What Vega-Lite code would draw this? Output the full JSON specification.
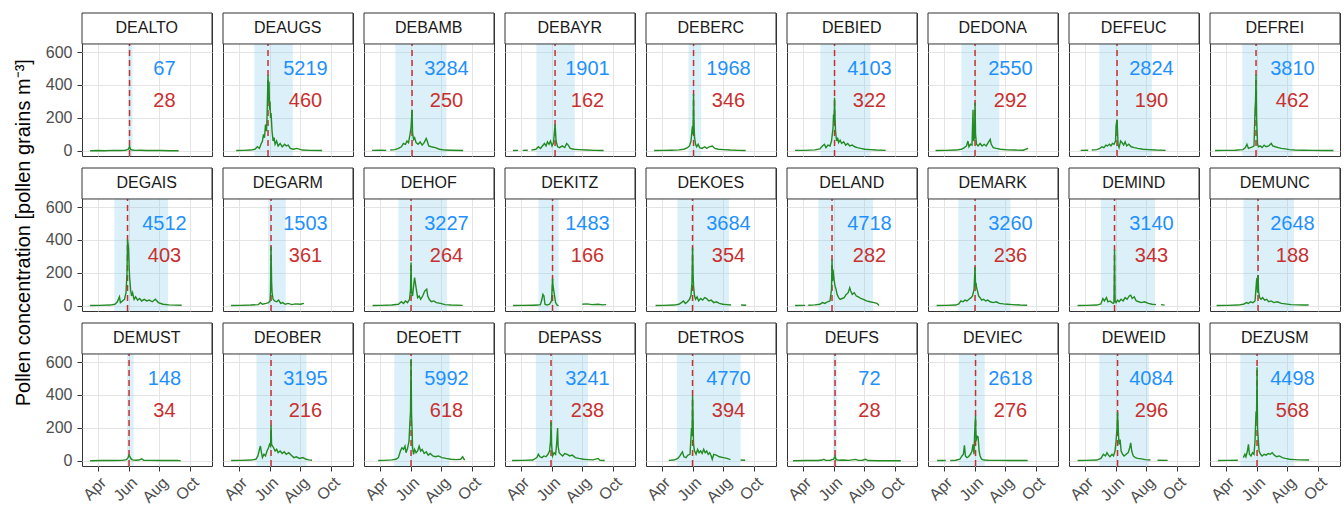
{
"$schema": "https://vega.github.io/schema/vega-lite/v6.json",
"padding": {"left": 14, "top": 12, "right": 4, "bottom": 0},
"bounds": "flush",
"title": {"text": "Pollen concentration [pollen grains m⁻³]", "orient": "left", "anchor": "middle", "fontSize": 20, "fontWeight": "normal", "color": "#000000", "font": "Liberation Sans", "offset": 11, "dx": 26},
"data": {"values": [
{"station":"DEALTO","start":"2022-05-31","end":"2022-06-09","peakDate":"2022-06-03","peak":28,"total":67},
{"station":"DEAUGS","start":"2022-05-02","end":"2022-07-17","peakDate":"2022-05-29","peak":460,"total":5219},
{"station":"DEBAMB","start":"2022-05-02","end":"2022-08-11","peakDate":"2022-06-04","peak":250,"total":3284},
{"station":"DEBAYR","start":"2022-05-02","end":"2022-07-17","peakDate":"2022-06-08","peak":162,"total":1901},
{"station":"DEBERC","start":"2022-05-24","end":"2022-06-18","peakDate":"2022-06-03","peak":346,"total":1968},
{"station":"DEBIED","start":"2022-05-06","end":"2022-08-13","peakDate":"2022-06-03","peak":322,"total":4103},
{"station":"DEDONA","start":"2022-05-06","end":"2022-07-20","peakDate":"2022-06-02","peak":292,"total":2550},
{"station":"DEFEUC","start":"2022-04-30","end":"2022-08-12","peakDate":"2022-06-04","peak":190,"total":2824},
{"station":"DEFREI","start":"2022-05-04","end":"2022-08-11","peakDate":"2022-05-31","peak":462,"total":3810},
{"station":"DEGAIS","start":"2022-05-04","end":"2022-08-18","peakDate":"2022-05-30","peak":403,"total":4512},
{"station":"DEGARM","start":"2022-05-29","end":"2022-07-03","peakDate":"2022-06-04","peak":361,"total":1503},
{"station":"DEHOF","start":"2022-05-08","end":"2022-08-12","peakDate":"2022-06-02","peak":264,"total":3227},
{"station":"DEKITZ","start":"2022-05-06","end":"2022-06-15","peakDate":"2022-06-03","peak":166,"total":1483},
{"station":"DEKOES","start":"2022-05-02","end":"2022-08-12","peakDate":"2022-06-01","peak":354,"total":3684},
{"station":"DELAND","start":"2022-05-02","end":"2022-08-18","peakDate":"2022-05-29","peak":282,"total":4718},
{"station":"DEMARK","start":"2022-04-30","end":"2022-08-11","peakDate":"2022-06-02","peak":236,"total":3260},
{"station":"DEMIND","start":"2022-05-03","end":"2022-08-18","peakDate":"2022-05-30","peak":343,"total":3140},
{"station":"DEMUNC","start":"2022-05-06","end":"2022-08-14","peakDate":"2022-06-04","peak":188,"total":2648},
{"station":"DEMUST","start":"2022-05-29","end":"2022-06-11","peakDate":"2022-06-02","peak":34,"total":148},
{"station":"DEOBER","start":"2022-05-06","end":"2022-08-13","peakDate":"2022-06-04","peak":216,"total":3195},
{"station":"DEOETT","start":"2022-04-30","end":"2022-08-17","peakDate":"2022-06-02","peak":618,"total":5992},
{"station":"DEPASS","start":"2022-05-01","end":"2022-08-12","peakDate":"2022-05-31","peak":238,"total":3241},
{"station":"DETROS","start":"2022-05-01","end":"2022-09-04","peakDate":"2022-06-01","peak":394,"total":4770},
{"station":"DEUFS","start":"2022-05-31","end":"2022-06-08","peakDate":"2022-06-04","peak":28,"total":72},
{"station":"DEVIEC","start":"2022-05-01","end":"2022-06-21","peakDate":"2022-06-03","peak":276,"total":2618},
{"station":"DEWEID","start":"2022-04-30","end":"2022-08-06","peakDate":"2022-06-05","peak":296,"total":4084},
{"station":"DEZUSM","start":"2022-04-30","end":"2022-08-14","peakDate":"2022-06-02","peak":568,"total":4498},
{"station":"DEALTO","date":"2022-03-17","conc":1},{"station":"DEALTO","date":"2022-04-01","conc":2},{"station":"DEALTO","date":"2022-04-15","conc":1},{"station":"DEALTO","date":"2022-05-01","conc":3},{"station":"DEALTO","date":"2022-05-15","conc":2},{"station":"DEALTO","date":"2022-05-25","conc":4},{"station":"DEALTO","date":"2022-05-30","conc":8},{"station":"DEALTO","date":"2022-06-01","conc":12},{"station":"DEALTO","date":"2022-06-03","conc":28},{"station":"DEALTO","date":"2022-06-05","conc":10},{"station":"DEALTO","date":"2022-06-08","conc":5},{"station":"DEALTO","date":"2022-06-15","conc":3},{"station":"DEALTO","date":"2022-06-25","conc":4},{"station":"DEALTO","date":"2022-07-05","conc":2},{"station":"DEALTO","date":"2022-07-20","conc":3},{"station":"DEALTO","date":"2022-08-05","conc":2},{"station":"DEALTO","date":"2022-08-20","conc":1},{"station":"DEALTO","date":"2022-09-08","conc":1},
{"station":"DEAUGS","date":"2022-03-27","conc":2},{"station":"DEAUGS","date":"2022-04-10","conc":3},{"station":"DEAUGS","date":"2022-04-25","conc":5},{"station":"DEAUGS","date":"2022-05-03","conc":10},{"station":"DEAUGS","date":"2022-05-08","conc":25},{"station":"DEAUGS","date":"2022-05-12","conc":15},{"station":"DEAUGS","date":"2022-05-15","conc":40},{"station":"DEAUGS","date":"2022-05-18","conc":60},{"station":"DEAUGS","date":"2022-05-20","conc":100},{"station":"DEAUGS","date":"2022-05-22","conc":80},{"station":"DEAUGS","date":"2022-05-24","conc":160},{"station":"DEAUGS","date":"2022-05-26","conc":120},{"station":"DEAUGS","date":"2022-05-27","conc":200},{"station":"DEAUGS","date":"2022-05-29","conc":460},{"station":"DEAUGS","date":"2022-05-30","conc":300},{"station":"DEAUGS","date":"2022-05-31","conc":420},{"station":"DEAUGS","date":"2022-06-01","conc":250},{"station":"DEAUGS","date":"2022-06-02","conc":300},{"station":"DEAUGS","date":"2022-06-03","conc":200},{"station":"DEAUGS","date":"2022-06-04","conc":230},{"station":"DEAUGS","date":"2022-06-06","conc":120},{"station":"DEAUGS","date":"2022-06-08","conc":60},{"station":"DEAUGS","date":"2022-06-10","conc":80},{"station":"DEAUGS","date":"2022-06-12","conc":40},{"station":"DEAUGS","date":"2022-06-15","conc":60},{"station":"DEAUGS","date":"2022-06-18","conc":30},{"station":"DEAUGS","date":"2022-06-22","conc":45},{"station":"DEAUGS","date":"2022-06-26","conc":25},{"station":"DEAUGS","date":"2022-07-01","conc":40},{"station":"DEAUGS","date":"2022-07-04","conc":30},{"station":"DEAUGS","date":"2022-07-08","conc":35},{"station":"DEAUGS","date":"2022-07-12","conc":15},{"station":"DEAUGS","date":"2022-07-18","conc":10},{"station":"DEAUGS","date":"2022-07-25","conc":15},{"station":"DEAUGS","date":"2022-08-05","conc":5},{"station":"DEAUGS","date":"2022-08-20","conc":3},{"station":"DEAUGS","date":"2022-09-13","conc":2},
{"station":"DEBAMB","date":"2022-03-17","conc":3},{"station":"DEBAMB","date":"2022-04-01","conc":4},{"station":"DEBAMB","date":"2022-04-14","conc":3},{"station":"DEBAMB","date":"2022-04-18","conc":null},{"station":"DEBAMB","date":"2022-04-22","conc":5},{"station":"DEBAMB","date":"2022-05-01","conc":8},{"station":"DEBAMB","date":"2022-05-08","conc":15},{"station":"DEBAMB","date":"2022-05-14","conc":25},{"station":"DEBAMB","date":"2022-05-18","conc":45},{"station":"DEBAMB","date":"2022-05-22","conc":40},{"station":"DEBAMB","date":"2022-05-25","conc":60},{"station":"DEBAMB","date":"2022-05-28","conc":50},{"station":"DEBAMB","date":"2022-05-31","conc":100},{"station":"DEBAMB","date":"2022-06-02","conc":140},{"station":"DEBAMB","date":"2022-06-04","conc":250},{"station":"DEBAMB","date":"2022-06-05","conc":110},{"station":"DEBAMB","date":"2022-06-07","conc":70},{"station":"DEBAMB","date":"2022-06-09","conc":80},{"station":"DEBAMB","date":"2022-06-12","conc":50},{"station":"DEBAMB","date":"2022-06-16","conc":40},{"station":"DEBAMB","date":"2022-06-20","conc":55},{"station":"DEBAMB","date":"2022-06-24","conc":35},{"station":"DEBAMB","date":"2022-06-28","conc":50},{"station":"DEBAMB","date":"2022-07-02","conc":75},{"station":"DEBAMB","date":"2022-07-04","conc":60},{"station":"DEBAMB","date":"2022-07-07","conc":30},{"station":"DEBAMB","date":"2022-07-12","conc":25},{"station":"DEBAMB","date":"2022-07-20","conc":20},{"station":"DEBAMB","date":"2022-07-28","conc":10},{"station":"DEBAMB","date":"2022-08-08","conc":5},{"station":"DEBAMB","date":"2022-08-20","conc":4},{"station":"DEBAMB","date":"2022-09-13","conc":2},
{"station":"DEBAYR","date":"2022-03-17","conc":2},{"station":"DEBAYR","date":"2022-03-27","conc":3},{"station":"DEBAYR","date":"2022-03-31","conc":null},{"station":"DEBAYR","date":"2022-04-05","conc":3},{"station":"DEBAYR","date":"2022-04-15","conc":4},{"station":"DEBAYR","date":"2022-04-18","conc":null},{"station":"DEBAYR","date":"2022-04-22","conc":5},{"station":"DEBAYR","date":"2022-05-01","conc":10},{"station":"DEBAYR","date":"2022-05-06","conc":25},{"station":"DEBAYR","date":"2022-05-10","conc":15},{"station":"DEBAYR","date":"2022-05-14","conc":30},{"station":"DEBAYR","date":"2022-05-18","conc":45},{"station":"DEBAYR","date":"2022-05-21","conc":30},{"station":"DEBAYR","date":"2022-05-24","conc":55},{"station":"DEBAYR","date":"2022-05-27","conc":40},{"station":"DEBAYR","date":"2022-05-30","conc":60},{"station":"DEBAYR","date":"2022-06-02","conc":30},{"station":"DEBAYR","date":"2022-06-05","conc":50},{"station":"DEBAYR","date":"2022-06-08","conc":162},{"station":"DEBAYR","date":"2022-06-10","conc":60},{"station":"DEBAYR","date":"2022-06-13","conc":25},{"station":"DEBAYR","date":"2022-06-17","conc":20},{"station":"DEBAYR","date":"2022-06-22","conc":30},{"station":"DEBAYR","date":"2022-06-27","conc":20},{"station":"DEBAYR","date":"2022-07-01","conc":45},{"station":"DEBAYR","date":"2022-07-04","conc":35},{"station":"DEBAYR","date":"2022-07-08","conc":15},{"station":"DEBAYR","date":"2022-07-15","conc":10},{"station":"DEBAYR","date":"2022-07-25","conc":8},{"station":"DEBAYR","date":"2022-08-10","conc":5},{"station":"DEBAYR","date":"2022-08-25","conc":3},{"station":"DEBAYR","date":"2022-09-12","conc":2},
{"station":"DEBERC","date":"2022-03-17","conc":2},{"station":"DEBERC","date":"2022-04-05","conc":3},{"station":"DEBERC","date":"2022-04-20","conc":4},{"station":"DEBERC","date":"2022-05-05","conc":6},{"station":"DEBERC","date":"2022-05-15","conc":10},{"station":"DEBERC","date":"2022-05-22","conc":20},{"station":"DEBERC","date":"2022-05-26","conc":30},{"station":"DEBERC","date":"2022-05-29","conc":60},{"station":"DEBERC","date":"2022-05-31","conc":130},{"station":"DEBERC","date":"2022-06-01","conc":150},{"station":"DEBERC","date":"2022-06-02","conc":100},{"station":"DEBERC","date":"2022-06-03","conc":346},{"station":"DEBERC","date":"2022-06-04","conc":160},{"station":"DEBERC","date":"2022-06-05","conc":80},{"station":"DEBERC","date":"2022-06-07","conc":40},{"station":"DEBERC","date":"2022-06-09","conc":25},{"station":"DEBERC","date":"2022-06-12","conc":40},{"station":"DEBERC","date":"2022-06-15","conc":20},{"station":"DEBERC","date":"2022-06-20","conc":15},{"station":"DEBERC","date":"2022-06-25","conc":25},{"station":"DEBERC","date":"2022-06-29","conc":15},{"station":"DEBERC","date":"2022-07-04","conc":25},{"station":"DEBERC","date":"2022-07-10","conc":30},{"station":"DEBERC","date":"2022-07-15","conc":15},{"station":"DEBERC","date":"2022-07-22","conc":10},{"station":"DEBERC","date":"2022-08-01","conc":8},{"station":"DEBERC","date":"2022-08-15","conc":5},{"station":"DEBERC","date":"2022-08-30","conc":3},{"station":"DEBERC","date":"2022-09-14","conc":2},
{"station":"DEBIED","date":"2022-03-17","conc":3},{"station":"DEBIED","date":"2022-04-05","conc":3},{"station":"DEBIED","date":"2022-04-25","conc":6},{"station":"DEBIED","date":"2022-05-05","conc":12},{"station":"DEBIED","date":"2022-05-10","conc":30},{"station":"DEBIED","date":"2022-05-14","conc":40},{"station":"DEBIED","date":"2022-05-17","conc":20},{"station":"DEBIED","date":"2022-05-21","conc":35},{"station":"DEBIED","date":"2022-05-25","conc":30},{"station":"DEBIED","date":"2022-05-28","conc":60},{"station":"DEBIED","date":"2022-05-31","conc":140},{"station":"DEBIED","date":"2022-06-01","conc":220},{"station":"DEBIED","date":"2022-06-02","conc":180},{"station":"DEBIED","date":"2022-06-03","conc":322},{"station":"DEBIED","date":"2022-06-04","conc":200},{"station":"DEBIED","date":"2022-06-05","conc":120},{"station":"DEBIED","date":"2022-06-07","conc":60},{"station":"DEBIED","date":"2022-06-09","conc":80},{"station":"DEBIED","date":"2022-06-11","conc":50},{"station":"DEBIED","date":"2022-06-14","conc":65},{"station":"DEBIED","date":"2022-06-17","conc":45},{"station":"DEBIED","date":"2022-06-21","conc":55},{"station":"DEBIED","date":"2022-06-25","conc":35},{"station":"DEBIED","date":"2022-06-29","conc":45},{"station":"DEBIED","date":"2022-07-03","conc":30},{"station":"DEBIED","date":"2022-07-08","conc":35},{"station":"DEBIED","date":"2022-07-13","conc":25},{"station":"DEBIED","date":"2022-07-18","conc":20},{"station":"DEBIED","date":"2022-07-25","conc":15},{"station":"DEBIED","date":"2022-08-02","conc":10},{"station":"DEBIED","date":"2022-08-12","conc":8},{"station":"DEBIED","date":"2022-08-25","conc":5},{"station":"DEBIED","date":"2022-09-12","conc":3},
{"station":"DEDONA","date":"2022-03-16","conc":2},{"station":"DEDONA","date":"2022-04-05","conc":3},{"station":"DEDONA","date":"2022-04-25","conc":5},{"station":"DEDONA","date":"2022-05-06","conc":10},{"station":"DEDONA","date":"2022-05-12","conc":20},{"station":"DEDONA","date":"2022-05-16","conc":30},{"station":"DEDONA","date":"2022-05-19","conc":60},{"station":"DEDONA","date":"2022-05-21","conc":25},{"station":"DEDONA","date":"2022-05-24","conc":40},{"station":"DEDONA","date":"2022-05-27","conc":35},{"station":"DEDONA","date":"2022-05-29","conc":250},{"station":"DEDONA","date":"2022-05-30","conc":60},{"station":"DEDONA","date":"2022-06-01","conc":80},{"station":"DEDONA","date":"2022-06-02","conc":292},{"station":"DEDONA","date":"2022-06-03","conc":100},{"station":"DEDONA","date":"2022-06-05","conc":40},{"station":"DEDONA","date":"2022-06-08","conc":30},{"station":"DEDONA","date":"2022-06-12","conc":45},{"station":"DEDONA","date":"2022-06-16","conc":30},{"station":"DEDONA","date":"2022-06-20","conc":40},{"station":"DEDONA","date":"2022-06-24","conc":30},{"station":"DEDONA","date":"2022-06-28","conc":50},{"station":"DEDONA","date":"2022-07-02","conc":70},{"station":"DEDONA","date":"2022-07-04","conc":40},{"station":"DEDONA","date":"2022-07-08","conc":20},{"station":"DEDONA","date":"2022-07-14","conc":15},{"station":"DEDONA","date":"2022-07-22","conc":10},{"station":"DEDONA","date":"2022-08-05","conc":6},{"station":"DEDONA","date":"2022-08-20","conc":5},{"station":"DEDONA","date":"2022-09-05","conc":4},{"station":"DEDONA","date":"2022-09-15","conc":15},
{"station":"DEFEUC","date":"2022-03-24","conc":3},{"station":"DEFEUC","date":"2022-04-08","conc":4},{"station":"DEFEUC","date":"2022-04-11","conc":null},{"station":"DEFEUC","date":"2022-04-15","conc":5},{"station":"DEFEUC","date":"2022-04-25","conc":8},{"station":"DEFEUC","date":"2022-05-01","conc":15},{"station":"DEFEUC","date":"2022-05-05","conc":25},{"station":"DEFEUC","date":"2022-05-09","conc":20},{"station":"DEFEUC","date":"2022-05-13","conc":35},{"station":"DEFEUC","date":"2022-05-16","conc":30},{"station":"DEFEUC","date":"2022-05-20","conc":40},{"station":"DEFEUC","date":"2022-05-23","conc":30},{"station":"DEFEUC","date":"2022-05-26","conc":45},{"station":"DEFEUC","date":"2022-05-29","conc":40},{"station":"DEFEUC","date":"2022-06-01","conc":60},{"station":"DEFEUC","date":"2022-06-02","conc":150},{"station":"DEFEUC","date":"2022-06-04","conc":190},{"station":"DEFEUC","date":"2022-06-06","conc":40},{"station":"DEFEUC","date":"2022-06-08","conc":20},{"station":"DEFEUC","date":"2022-06-11","conc":60},{"station":"DEFEUC","date":"2022-06-14","conc":50},{"station":"DEFEUC","date":"2022-06-17","conc":35},{"station":"DEFEUC","date":"2022-06-20","conc":55},{"station":"DEFEUC","date":"2022-06-23","conc":30},{"station":"DEFEUC","date":"2022-06-27","conc":40},{"station":"DEFEUC","date":"2022-07-02","conc":25},{"station":"DEFEUC","date":"2022-07-08","conc":20},{"station":"DEFEUC","date":"2022-07-15","conc":15},{"station":"DEFEUC","date":"2022-07-25","conc":10},{"station":"DEFEUC","date":"2022-08-05","conc":8},{"station":"DEFEUC","date":"2022-08-20","conc":5},{"station":"DEFEUC","date":"2022-09-08","conc":3},
{"station":"DEFREI","date":"2022-03-11","conc":2},{"station":"DEFREI","date":"2022-03-30","conc":3},{"station":"DEFREI","date":"2022-04-20","conc":4},{"station":"DEFREI","date":"2022-05-05","conc":8},{"station":"DEFREI","date":"2022-05-10","conc":20},{"station":"DEFREI","date":"2022-05-13","conc":40},{"station":"DEFREI","date":"2022-05-16","conc":15},{"station":"DEFREI","date":"2022-05-20","conc":20},{"station":"DEFREI","date":"2022-05-24","conc":25},{"station":"DEFREI","date":"2022-05-27","conc":30},{"station":"DEFREI","date":"2022-05-29","conc":250},{"station":"DEFREI","date":"2022-05-30","conc":300},{"station":"DEFREI","date":"2022-05-31","conc":462},{"station":"DEFREI","date":"2022-06-01","conc":200},{"station":"DEFREI","date":"2022-06-02","conc":120},{"station":"DEFREI","date":"2022-06-03","conc":40},{"station":"DEFREI","date":"2022-06-05","conc":25},{"station":"DEFREI","date":"2022-06-08","conc":30},{"station":"DEFREI","date":"2022-06-12","conc":20},{"station":"DEFREI","date":"2022-06-16","conc":35},{"station":"DEFREI","date":"2022-06-20","conc":25},{"station":"DEFREI","date":"2022-06-25","conc":30},{"station":"DEFREI","date":"2022-06-30","conc":45},{"station":"DEFREI","date":"2022-07-03","conc":30},{"station":"DEFREI","date":"2022-07-08","conc":25},{"station":"DEFREI","date":"2022-07-14","conc":20},{"station":"DEFREI","date":"2022-07-20","conc":15},{"station":"DEFREI","date":"2022-07-28","conc":12},{"station":"DEFREI","date":"2022-08-05","conc":8},{"station":"DEFREI","date":"2022-08-15","conc":5},{"station":"DEFREI","date":"2022-09-01","conc":4},{"station":"DEFREI","date":"2022-09-20","conc":3},{"station":"DEFREI","date":"2022-10-10","conc":2},{"station":"DEFREI","date":"2022-10-31","conc":2},
{"station":"DEGAIS","date":"2022-03-17","conc":2},{"station":"DEGAIS","date":"2022-04-05","conc":3},{"station":"DEGAIS","date":"2022-04-25","conc":5},{"station":"DEGAIS","date":"2022-05-05","conc":10},{"station":"DEGAIS","date":"2022-05-10","conc":25},{"station":"DEGAIS","date":"2022-05-14","conc":55},{"station":"DEGAIS","date":"2022-05-16","conc":20},{"station":"DEGAIS","date":"2022-05-20","conc":30},{"station":"DEGAIS","date":"2022-05-24","conc":40},{"station":"DEGAIS","date":"2022-05-27","conc":80},{"station":"DEGAIS","date":"2022-05-29","conc":200},{"station":"DEGAIS","date":"2022-05-30","conc":403},{"station":"DEGAIS","date":"2022-05-31","conc":380},{"station":"DEGAIS","date":"2022-06-01","conc":350},{"station":"DEGAIS","date":"2022-06-02","conc":250},{"station":"DEGAIS","date":"2022-06-03","conc":180},{"station":"DEGAIS","date":"2022-06-05","conc":100},{"station":"DEGAIS","date":"2022-06-07","conc":60},{"station":"DEGAIS","date":"2022-06-09","conc":80},{"station":"DEGAIS","date":"2022-06-12","conc":40},{"station":"DEGAIS","date":"2022-06-15","conc":55},{"station":"DEGAIS","date":"2022-06-19","conc":35},{"station":"DEGAIS","date":"2022-06-23","conc":45},{"station":"DEGAIS","date":"2022-06-27","conc":30},{"station":"DEGAIS","date":"2022-07-02","conc":40},{"station":"DEGAIS","date":"2022-07-07","conc":30},{"station":"DEGAIS","date":"2022-07-12","conc":35},{"station":"DEGAIS","date":"2022-07-18","conc":25},{"station":"DEGAIS","date":"2022-07-24","conc":40},{"station":"DEGAIS","date":"2022-07-30","conc":20},{"station":"DEGAIS","date":"2022-08-08","conc":10},{"station":"DEGAIS","date":"2022-08-20","conc":6},{"station":"DEGAIS","date":"2022-09-14","conc":4},
{"station":"DEGARM","date":"2022-03-17","conc":2},{"station":"DEGARM","date":"2022-04-05","conc":3},{"station":"DEGARM","date":"2022-04-25","conc":5},{"station":"DEGARM","date":"2022-05-10","conc":8},{"station":"DEGARM","date":"2022-05-14","conc":20},{"station":"DEGARM","date":"2022-05-18","conc":10},{"station":"DEGARM","date":"2022-05-25","conc":15},{"station":"DEGARM","date":"2022-05-30","conc":20},{"station":"DEGARM","date":"2022-06-02","conc":30},{"station":"DEGARM","date":"2022-06-03","conc":100},{"station":"DEGARM","date":"2022-06-04","conc":361},{"station":"DEGARM","date":"2022-06-05","conc":150},{"station":"DEGARM","date":"2022-06-06","conc":80},{"station":"DEGARM","date":"2022-06-08","conc":40},{"station":"DEGARM","date":"2022-06-11","conc":30},{"station":"DEGARM","date":"2022-06-15","conc":25},{"station":"DEGARM","date":"2022-06-19","conc":35},{"station":"DEGARM","date":"2022-06-23","conc":15},{"station":"DEGARM","date":"2022-06-27","conc":20},{"station":"DEGARM","date":"2022-07-02","conc":10},{"station":"DEGARM","date":"2022-07-08","conc":15},{"station":"DEGARM","date":"2022-07-15","conc":8},{"station":"DEGARM","date":"2022-07-22","conc":12},{"station":"DEGARM","date":"2022-08-01","conc":10},{"station":"DEGARM","date":"2022-08-08","conc":15},
{"station":"DEHOF","date":"2022-03-18","conc":2},{"station":"DEHOF","date":"2022-04-05","conc":3},{"station":"DEHOF","date":"2022-04-25","conc":5},{"station":"DEHOF","date":"2022-05-08","conc":10},{"station":"DEHOF","date":"2022-05-14","conc":25},{"station":"DEHOF","date":"2022-05-18","conc":15},{"station":"DEHOF","date":"2022-05-22","conc":30},{"station":"DEHOF","date":"2022-05-26","conc":20},{"station":"DEHOF","date":"2022-05-30","conc":40},{"station":"DEHOF","date":"2022-06-01","conc":100},{"station":"DEHOF","date":"2022-06-02","conc":264},{"station":"DEHOF","date":"2022-06-03","conc":80},{"station":"DEHOF","date":"2022-06-05","conc":60},{"station":"DEHOF","date":"2022-06-07","conc":120},{"station":"DEHOF","date":"2022-06-09","conc":172},{"station":"DEHOF","date":"2022-06-11","conc":130},{"station":"DEHOF","date":"2022-06-13","conc":90},{"station":"DEHOF","date":"2022-06-15","conc":50},{"station":"DEHOF","date":"2022-06-18","conc":60},{"station":"DEHOF","date":"2022-06-21","conc":40},{"station":"DEHOF","date":"2022-06-25","conc":60},{"station":"DEHOF","date":"2022-06-29","conc":90},{"station":"DEHOF","date":"2022-07-03","conc":101},{"station":"DEHOF","date":"2022-07-05","conc":60},{"station":"DEHOF","date":"2022-07-08","conc":40},{"station":"DEHOF","date":"2022-07-12","conc":25},{"station":"DEHOF","date":"2022-07-17","conc":30},{"station":"DEHOF","date":"2022-07-22","conc":20},{"station":"DEHOF","date":"2022-07-30","conc":15},{"station":"DEHOF","date":"2022-08-08","conc":8},{"station":"DEHOF","date":"2022-08-20","conc":5},{"station":"DEHOF","date":"2022-09-12","conc":3},
{"station":"DEKITZ","date":"2022-03-17","conc":2},{"station":"DEKITZ","date":"2022-04-05","conc":3},{"station":"DEKITZ","date":"2022-04-25","conc":4},{"station":"DEKITZ","date":"2022-05-05","conc":5},{"station":"DEKITZ","date":"2022-05-10","conc":8},{"station":"DEKITZ","date":"2022-05-13","conc":40},{"station":"DEKITZ","date":"2022-05-15","conc":70},{"station":"DEKITZ","date":"2022-05-17","conc":60},{"station":"DEKITZ","date":"2022-05-19","conc":10},{"station":"DEKITZ","date":"2022-05-23","conc":5},{"station":"DEKITZ","date":"2022-05-28","conc":10},{"station":"DEKITZ","date":"2022-06-01","conc":30},{"station":"DEKITZ","date":"2022-06-02","conc":100},{"station":"DEKITZ","date":"2022-06-03","conc":166},{"station":"DEKITZ","date":"2022-06-04","conc":120},{"station":"DEKITZ","date":"2022-06-06","conc":80},{"station":"DEKITZ","date":"2022-06-09","conc":20},{"station":"DEKITZ","date":"2022-06-12","conc":5},{"station":"DEKITZ","date":"2022-06-15","conc":2},{"station":"DEKITZ","date":"2022-07-10","conc":null},{"station":"DEKITZ","date":"2022-08-01","conc":10},{"station":"DEKITZ","date":"2022-08-10","conc":12},{"station":"DEKITZ","date":"2022-08-20","conc":8},{"station":"DEKITZ","date":"2022-09-01","conc":10},{"station":"DEKITZ","date":"2022-09-10","conc":6},{"station":"DEKITZ","date":"2022-09-17","conc":8},
{"station":"DEKOES","date":"2022-03-20","conc":2},{"station":"DEKOES","date":"2022-04-05","conc":3},{"station":"DEKOES","date":"2022-04-25","conc":5},{"station":"DEKOES","date":"2022-05-05","conc":10},{"station":"DEKOES","date":"2022-05-10","conc":20},{"station":"DEKOES","date":"2022-05-14","conc":30},{"station":"DEKOES","date":"2022-05-18","conc":15},{"station":"DEKOES","date":"2022-05-22","conc":25},{"station":"DEKOES","date":"2022-05-26","conc":40},{"station":"DEKOES","date":"2022-05-29","conc":65},{"station":"DEKOES","date":"2022-05-31","conc":150},{"station":"DEKOES","date":"2022-06-01","conc":354},{"station":"DEKOES","date":"2022-06-02","conc":200},{"station":"DEKOES","date":"2022-06-03","conc":120},{"station":"DEKOES","date":"2022-06-05","conc":60},{"station":"DEKOES","date":"2022-06-07","conc":40},{"station":"DEKOES","date":"2022-06-10","conc":55},{"station":"DEKOES","date":"2022-06-13","conc":30},{"station":"DEKOES","date":"2022-06-17","conc":45},{"station":"DEKOES","date":"2022-06-21","conc":35},{"station":"DEKOES","date":"2022-06-25","conc":50},{"station":"DEKOES","date":"2022-06-29","conc":45},{"station":"DEKOES","date":"2022-07-03","conc":30},{"station":"DEKOES","date":"2022-07-08","conc":35},{"station":"DEKOES","date":"2022-07-13","conc":20},{"station":"DEKOES","date":"2022-07-18","conc":25},{"station":"DEKOES","date":"2022-07-24","conc":15},{"station":"DEKOES","date":"2022-07-31","conc":10},{"station":"DEKOES","date":"2022-08-08","conc":8},{"station":"DEKOES","date":"2022-08-16","conc":5},{"station":"DEKOES","date":"2022-08-25","conc":null},{"station":"DEKOES","date":"2022-09-05","conc":5},{"station":"DEKOES","date":"2022-09-15","conc":4},
{"station":"DELAND","date":"2022-03-17","conc":2},{"station":"DELAND","date":"2022-04-06","conc":3},{"station":"DELAND","date":"2022-04-09","conc":null},{"station":"DELAND","date":"2022-04-12","conc":4},{"station":"DELAND","date":"2022-04-25","conc":6},{"station":"DELAND","date":"2022-05-05","conc":10},{"station":"DELAND","date":"2022-05-10","conc":20},{"station":"DELAND","date":"2022-05-15","conc":15},{"station":"DELAND","date":"2022-05-20","conc":25},{"station":"DELAND","date":"2022-05-25","conc":30},{"station":"DELAND","date":"2022-05-28","conc":100},{"station":"DELAND","date":"2022-05-29","conc":282},{"station":"DELAND","date":"2022-05-30","conc":150},{"station":"DELAND","date":"2022-05-31","conc":220},{"station":"DELAND","date":"2022-06-02","conc":160},{"station":"DELAND","date":"2022-06-04","conc":120},{"station":"DELAND","date":"2022-06-06","conc":100},{"station":"DELAND","date":"2022-06-08","conc":70},{"station":"DELAND","date":"2022-06-11","conc":50},{"station":"DELAND","date":"2022-06-14","conc":40},{"station":"DELAND","date":"2022-06-18","conc":45},{"station":"DELAND","date":"2022-06-22","conc":50},{"station":"DELAND","date":"2022-06-26","conc":70},{"station":"DELAND","date":"2022-06-30","conc":80},{"station":"DELAND","date":"2022-07-03","conc":110},{"station":"DELAND","date":"2022-07-05","conc":90},{"station":"DELAND","date":"2022-07-08","conc":70},{"station":"DELAND","date":"2022-07-12","conc":80},{"station":"DELAND","date":"2022-07-16","conc":60},{"station":"DELAND","date":"2022-07-20","conc":55},{"station":"DELAND","date":"2022-07-25","conc":45},{"station":"DELAND","date":"2022-07-30","conc":40},{"station":"DELAND","date":"2022-08-05","conc":30},{"station":"DELAND","date":"2022-08-12","conc":25},{"station":"DELAND","date":"2022-08-20","conc":20},{"station":"DELAND","date":"2022-08-26","conc":15},{"station":"DELAND","date":"2022-08-30","conc":3},
{"station":"DEMARK","date":"2022-03-18","conc":2},{"station":"DEMARK","date":"2022-04-05","conc":3},{"station":"DEMARK","date":"2022-04-25","conc":5},{"station":"DEMARK","date":"2022-05-01","conc":12},{"station":"DEMARK","date":"2022-05-05","conc":30},{"station":"DEMARK","date":"2022-05-09","conc":25},{"station":"DEMARK","date":"2022-05-13","conc":35},{"station":"DEMARK","date":"2022-05-17","conc":30},{"station":"DEMARK","date":"2022-05-21","conc":40},{"station":"DEMARK","date":"2022-05-25","conc":50},{"station":"DEMARK","date":"2022-05-28","conc":60},{"station":"DEMARK","date":"2022-05-31","conc":100},{"station":"DEMARK","date":"2022-06-02","conc":236},{"station":"DEMARK","date":"2022-06-03","conc":120},{"station":"DEMARK","date":"2022-06-04","conc":140},{"station":"DEMARK","date":"2022-06-05","conc":110},{"station":"DEMARK","date":"2022-06-07","conc":90},{"station":"DEMARK","date":"2022-06-09","conc":60},{"station":"DEMARK","date":"2022-06-12","conc":50},{"station":"DEMARK","date":"2022-06-15","conc":35},{"station":"DEMARK","date":"2022-06-19","conc":40},{"station":"DEMARK","date":"2022-06-23","conc":30},{"station":"DEMARK","date":"2022-06-27","conc":35},{"station":"DEMARK","date":"2022-07-02","conc":25},{"station":"DEMARK","date":"2022-07-08","conc":20},{"station":"DEMARK","date":"2022-07-14","conc":25},{"station":"DEMARK","date":"2022-07-20","conc":15},{"station":"DEMARK","date":"2022-07-28","conc":12},{"station":"DEMARK","date":"2022-08-05","conc":10},{"station":"DEMARK","date":"2022-08-15","conc":8},{"station":"DEMARK","date":"2022-08-30","conc":5},{"station":"DEMARK","date":"2022-09-13","conc":4},
{"station":"DEMIND","date":"2022-03-18","conc":2},{"station":"DEMIND","date":"2022-04-05","conc":3},{"station":"DEMIND","date":"2022-04-25","conc":5},{"station":"DEMIND","date":"2022-05-03","conc":12},{"station":"DEMIND","date":"2022-05-07","conc":45},{"station":"DEMIND","date":"2022-05-10","conc":30},{"station":"DEMIND","date":"2022-05-14","conc":50},{"station":"DEMIND","date":"2022-05-17","conc":25},{"station":"DEMIND","date":"2022-05-21","conc":30},{"station":"DEMIND","date":"2022-05-25","conc":20},{"station":"DEMIND","date":"2022-05-28","conc":15},{"station":"DEMIND","date":"2022-05-29","conc":20},{"station":"DEMIND","date":"2022-05-30","conc":343},{"station":"DEMIND","date":"2022-05-31","conc":30},{"station":"DEMIND","date":"2022-06-02","conc":20},{"station":"DEMIND","date":"2022-06-05","conc":35},{"station":"DEMIND","date":"2022-06-08","conc":25},{"station":"DEMIND","date":"2022-06-12","conc":40},{"station":"DEMIND","date":"2022-06-16","conc":30},{"station":"DEMIND","date":"2022-06-20","conc":50},{"station":"DEMIND","date":"2022-06-24","conc":40},{"station":"DEMIND","date":"2022-06-28","conc":60},{"station":"DEMIND","date":"2022-07-01","conc":65},{"station":"DEMIND","date":"2022-07-04","conc":45},{"station":"DEMIND","date":"2022-07-08","conc":55},{"station":"DEMIND","date":"2022-07-12","conc":30},{"station":"DEMIND","date":"2022-07-17","conc":25},{"station":"DEMIND","date":"2022-07-22","conc":20},{"station":"DEMIND","date":"2022-07-28","conc":25},{"station":"DEMIND","date":"2022-08-05","conc":15},{"station":"DEMIND","date":"2022-08-12","conc":10},{"station":"DEMIND","date":"2022-08-20","conc":8},{"station":"DEMIND","date":"2022-08-24","conc":null},{"station":"DEMIND","date":"2022-08-30","conc":8},{"station":"DEMIND","date":"2022-09-06","conc":5},
{"station":"DEMUNC","date":"2022-03-14","conc":2},{"station":"DEMUNC","date":"2022-04-05","conc":3},{"station":"DEMUNC","date":"2022-04-25","conc":5},{"station":"DEMUNC","date":"2022-05-06","conc":10},{"station":"DEMUNC","date":"2022-05-12","conc":20},{"station":"DEMUNC","date":"2022-05-16","conc":15},{"station":"DEMUNC","date":"2022-05-20","conc":25},{"station":"DEMUNC","date":"2022-05-25","conc":20},{"station":"DEMUNC","date":"2022-05-29","conc":30},{"station":"DEMUNC","date":"2022-06-01","conc":150},{"station":"DEMUNC","date":"2022-06-02","conc":170},{"station":"DEMUNC","date":"2022-06-03","conc":80},{"station":"DEMUNC","date":"2022-06-04","conc":188},{"station":"DEMUNC","date":"2022-06-05","conc":90},{"station":"DEMUNC","date":"2022-06-07","conc":50},{"station":"DEMUNC","date":"2022-06-10","conc":40},{"station":"DEMUNC","date":"2022-06-13","conc":50},{"station":"DEMUNC","date":"2022-06-17","conc":35},{"station":"DEMUNC","date":"2022-06-21","conc":40},{"station":"DEMUNC","date":"2022-06-25","conc":25},{"station":"DEMUNC","date":"2022-06-30","conc":30},{"station":"DEMUNC","date":"2022-07-05","conc":20},{"station":"DEMUNC","date":"2022-07-12","conc":25},{"station":"DEMUNC","date":"2022-07-20","conc":15},{"station":"DEMUNC","date":"2022-07-28","conc":12},{"station":"DEMUNC","date":"2022-08-08","conc":8},{"station":"DEMUNC","date":"2022-08-20","conc":6},{"station":"DEMUNC","date":"2022-09-01","conc":5},{"station":"DEMUNC","date":"2022-09-12","conc":5},
{"station":"DEMUST","date":"2022-03-17","conc":1},{"station":"DEMUST","date":"2022-04-10","conc":2},{"station":"DEMUST","date":"2022-05-01","conc":2},{"station":"DEMUST","date":"2022-05-20","conc":3},{"station":"DEMUST","date":"2022-05-28","conc":8},{"station":"DEMUST","date":"2022-05-31","conc":20},{"station":"DEMUST","date":"2022-06-02","conc":34},{"station":"DEMUST","date":"2022-06-04","conc":25},{"station":"DEMUST","date":"2022-06-06","conc":12},{"station":"DEMUST","date":"2022-06-09","conc":6},{"station":"DEMUST","date":"2022-06-15","conc":4},{"station":"DEMUST","date":"2022-06-22","conc":5},{"station":"DEMUST","date":"2022-06-27","conc":12},{"station":"DEMUST","date":"2022-07-01","conc":4},{"station":"DEMUST","date":"2022-07-15","conc":3},{"station":"DEMUST","date":"2022-08-01","conc":2},{"station":"DEMUST","date":"2022-08-20","conc":2},{"station":"DEMUST","date":"2022-09-05","conc":3},{"station":"DEMUST","date":"2022-09-12","conc":1},
{"station":"DEOBER","date":"2022-03-17","conc":2},{"station":"DEOBER","date":"2022-04-05","conc":3},{"station":"DEOBER","date":"2022-04-25","conc":5},{"station":"DEOBER","date":"2022-05-05","conc":10},{"station":"DEOBER","date":"2022-05-09","conc":30},{"station":"DEOBER","date":"2022-05-12","conc":70},{"station":"DEOBER","date":"2022-05-14","conc":90},{"station":"DEOBER","date":"2022-05-16","conc":50},{"station":"DEOBER","date":"2022-05-18","conc":20},{"station":"DEOBER","date":"2022-05-21","conc":40},{"station":"DEOBER","date":"2022-05-24","conc":30},{"station":"DEOBER","date":"2022-05-27","conc":60},{"station":"DEOBER","date":"2022-05-30","conc":80},{"station":"DEOBER","date":"2022-06-01","conc":100},{"station":"DEOBER","date":"2022-06-03","conc":90},{"station":"DEOBER","date":"2022-06-04","conc":216},{"station":"DEOBER","date":"2022-06-05","conc":100},{"station":"DEOBER","date":"2022-06-07","conc":90},{"station":"DEOBER","date":"2022-06-09","conc":80},{"station":"DEOBER","date":"2022-06-12","conc":60},{"station":"DEOBER","date":"2022-06-15","conc":70},{"station":"DEOBER","date":"2022-06-18","conc":50},{"station":"DEOBER","date":"2022-06-22","conc":60},{"station":"DEOBER","date":"2022-06-26","conc":45},{"station":"DEOBER","date":"2022-06-30","conc":55},{"station":"DEOBER","date":"2022-07-04","conc":40},{"station":"DEOBER","date":"2022-07-09","conc":50},{"station":"DEOBER","date":"2022-07-14","conc":35},{"station":"DEOBER","date":"2022-07-19","conc":20},{"station":"DEOBER","date":"2022-07-24","conc":25},{"station":"DEOBER","date":"2022-07-30","conc":15},{"station":"DEOBER","date":"2022-08-06","conc":20},{"station":"DEOBER","date":"2022-08-12","conc":10},{"station":"DEOBER","date":"2022-08-18","conc":6},{"station":"DEOBER","date":"2022-08-24","conc":4},
{"station":"DEOETT","date":"2022-03-29","conc":2},{"station":"DEOETT","date":"2022-04-10","conc":3},{"station":"DEOETT","date":"2022-04-25","conc":6},{"station":"DEOETT","date":"2022-05-03","conc":10},{"station":"DEOETT","date":"2022-05-08","conc":20},{"station":"DEOETT","date":"2022-05-12","conc":60},{"station":"DEOETT","date":"2022-05-15","conc":80},{"station":"DEOETT","date":"2022-05-18","conc":70},{"station":"DEOETT","date":"2022-05-21","conc":90},{"station":"DEOETT","date":"2022-05-23","conc":50},{"station":"DEOETT","date":"2022-05-26","conc":75},{"station":"DEOETT","date":"2022-05-29","conc":120},{"station":"DEOETT","date":"2022-05-31","conc":250},{"station":"DEOETT","date":"2022-06-01","conc":300},{"station":"DEOETT","date":"2022-06-02","conc":618},{"station":"DEOETT","date":"2022-06-03","conc":280},{"station":"DEOETT","date":"2022-06-04","conc":200},{"station":"DEOETT","date":"2022-06-05","conc":80},{"station":"DEOETT","date":"2022-06-07","conc":40},{"station":"DEOETT","date":"2022-06-09","conc":70},{"station":"DEOETT","date":"2022-06-12","conc":50},{"station":"DEOETT","date":"2022-06-15","conc":60},{"station":"DEOETT","date":"2022-06-18","conc":90},{"station":"DEOETT","date":"2022-06-21","conc":60},{"station":"DEOETT","date":"2022-06-24","conc":70},{"station":"DEOETT","date":"2022-06-28","conc":45},{"station":"DEOETT","date":"2022-07-02","conc":55},{"station":"DEOETT","date":"2022-07-06","conc":35},{"station":"DEOETT","date":"2022-07-10","conc":45},{"station":"DEOETT","date":"2022-07-15","conc":30},{"station":"DEOETT","date":"2022-07-20","conc":25},{"station":"DEOETT","date":"2022-07-26","conc":30},{"station":"DEOETT","date":"2022-08-02","conc":20},{"station":"DEOETT","date":"2022-08-10","conc":15},{"station":"DEOETT","date":"2022-08-20","conc":10},{"station":"DEOETT","date":"2022-08-30","conc":8},{"station":"DEOETT","date":"2022-09-08","conc":10},{"station":"DEOETT","date":"2022-09-12","conc":25},{"station":"DEOETT","date":"2022-09-16","conc":5},
{"station":"DEPASS","date":"2022-03-15","conc":2},{"station":"DEPASS","date":"2022-04-05","conc":3},{"station":"DEPASS","date":"2022-04-25","conc":5},{"station":"DEPASS","date":"2022-05-03","conc":20},{"station":"DEPASS","date":"2022-05-06","conc":40},{"station":"DEPASS","date":"2022-05-09","conc":25},{"station":"DEPASS","date":"2022-05-13","conc":20},{"station":"DEPASS","date":"2022-05-17","conc":30},{"station":"DEPASS","date":"2022-05-21","conc":25},{"station":"DEPASS","date":"2022-05-25","conc":40},{"station":"DEPASS","date":"2022-05-28","conc":60},{"station":"DEPASS","date":"2022-05-30","conc":120},{"station":"DEPASS","date":"2022-05-31","conc":238},{"station":"DEPASS","date":"2022-06-01","conc":100},{"station":"DEPASS","date":"2022-06-03","conc":30},{"station":"DEPASS","date":"2022-06-06","conc":50},{"station":"DEPASS","date":"2022-06-09","conc":40},{"station":"DEPASS","date":"2022-06-11","conc":100},{"station":"DEPASS","date":"2022-06-13","conc":200},{"station":"DEPASS","date":"2022-06-14","conc":90},{"station":"DEPASS","date":"2022-06-16","conc":50},{"station":"DEPASS","date":"2022-06-19","conc":40},{"station":"DEPASS","date":"2022-06-23","conc":30},{"station":"DEPASS","date":"2022-06-27","conc":45},{"station":"DEPASS","date":"2022-07-02","conc":40},{"station":"DEPASS","date":"2022-07-07","conc":30},{"station":"DEPASS","date":"2022-07-12","conc":35},{"station":"DEPASS","date":"2022-07-18","conc":20},{"station":"DEPASS","date":"2022-07-25","conc":15},{"station":"DEPASS","date":"2022-08-03","conc":10},{"station":"DEPASS","date":"2022-08-12","conc":8},{"station":"DEPASS","date":"2022-08-22","conc":6},{"station":"DEPASS","date":"2022-09-01","conc":15},{"station":"DEPASS","date":"2022-09-05","conc":3},{"station":"DEPASS","date":"2022-09-14","conc":2},
{"station":"DETROS","date":"2022-04-15","conc":3},{"station":"DETROS","date":"2022-04-25","conc":5},{"station":"DETROS","date":"2022-05-03","conc":15},{"station":"DETROS","date":"2022-05-07","conc":30},{"station":"DETROS","date":"2022-05-10","conc":45},{"station":"DETROS","date":"2022-05-12","conc":55},{"station":"DETROS","date":"2022-05-15","conc":25},{"station":"DETROS","date":"2022-05-19","conc":20},{"station":"DETROS","date":"2022-05-23","conc":35},{"station":"DETROS","date":"2022-05-27","conc":40},{"station":"DETROS","date":"2022-05-30","conc":200},{"station":"DETROS","date":"2022-05-31","conc":150},{"station":"DETROS","date":"2022-06-01","conc":394},{"station":"DETROS","date":"2022-06-02","conc":250},{"station":"DETROS","date":"2022-06-03","conc":100},{"station":"DETROS","date":"2022-06-05","conc":60},{"station":"DETROS","date":"2022-06-08","conc":40},{"station":"DETROS","date":"2022-06-11","conc":70},{"station":"DETROS","date":"2022-06-14","conc":50},{"station":"DETROS","date":"2022-06-17","conc":60},{"station":"DETROS","date":"2022-06-20","conc":45},{"station":"DETROS","date":"2022-06-23","conc":70},{"station":"DETROS","date":"2022-06-26","conc":50},{"station":"DETROS","date":"2022-06-29","conc":60},{"station":"DETROS","date":"2022-07-02","conc":40},{"station":"DETROS","date":"2022-07-05","conc":50},{"station":"DETROS","date":"2022-07-08","conc":30},{"station":"DETROS","date":"2022-07-10","conc":10},{"station":"DETROS","date":"2022-07-13","conc":40},{"station":"DETROS","date":"2022-07-18","conc":35},{"station":"DETROS","date":"2022-07-24","conc":25},{"station":"DETROS","date":"2022-08-01","conc":20},{"station":"DETROS","date":"2022-08-08","conc":15},{"station":"DETROS","date":"2022-08-15","conc":8},{"station":"DETROS","date":"2022-08-25","conc":null},{"station":"DETROS","date":"2022-09-04","conc":5},{"station":"DETROS","date":"2022-09-13","conc":4},
{"station":"DEUFS","date":"2022-03-13","conc":1},{"station":"DEUFS","date":"2022-04-10","conc":2},{"station":"DEUFS","date":"2022-05-01","conc":2},{"station":"DEUFS","date":"2022-05-10","conc":5},{"station":"DEUFS","date":"2022-05-13","conc":10},{"station":"DEUFS","date":"2022-05-16","conc":3},{"station":"DEUFS","date":"2022-05-25","conc":4},{"station":"DEUFS","date":"2022-06-01","conc":10},{"station":"DEUFS","date":"2022-06-04","conc":28},{"station":"DEUFS","date":"2022-06-06","conc":8},{"station":"DEUFS","date":"2022-06-12","conc":4},{"station":"DEUFS","date":"2022-06-20","conc":5},{"station":"DEUFS","date":"2022-07-01","conc":3},{"station":"DEUFS","date":"2022-07-15","conc":9},{"station":"DEUFS","date":"2022-07-20","conc":3},{"station":"DEUFS","date":"2022-07-28","conc":4},{"station":"DEUFS","date":"2022-08-03","conc":10},{"station":"DEUFS","date":"2022-08-08","conc":2},{"station":"DEUFS","date":"2022-08-30","conc":1},{"station":"DEUFS","date":"2022-09-20","conc":1},{"station":"DEUFS","date":"2022-10-12","conc":1},
{"station":"DEVIEC","date":"2022-03-19","conc":2},{"station":"DEVIEC","date":"2022-04-05","conc":2},{"station":"DEVIEC","date":"2022-04-09","conc":null},{"station":"DEVIEC","date":"2022-04-14","conc":2},{"station":"DEVIEC","date":"2022-04-25","conc":4},{"station":"DEVIEC","date":"2022-05-03","conc":10},{"station":"DEVIEC","date":"2022-05-07","conc":30},{"station":"DEVIEC","date":"2022-05-10","conc":40},{"station":"DEVIEC","date":"2022-05-12","conc":95},{"station":"DEVIEC","date":"2022-05-14","conc":30},{"station":"DEVIEC","date":"2022-05-17","conc":20},{"station":"DEVIEC","date":"2022-05-20","conc":25},{"station":"DEVIEC","date":"2022-05-24","conc":40},{"station":"DEVIEC","date":"2022-05-27","conc":60},{"station":"DEVIEC","date":"2022-05-29","conc":100},{"station":"DEVIEC","date":"2022-05-31","conc":40},{"station":"DEVIEC","date":"2022-06-01","conc":150},{"station":"DEVIEC","date":"2022-06-03","conc":276},{"station":"DEVIEC","date":"2022-06-04","conc":120},{"station":"DEVIEC","date":"2022-06-06","conc":150},{"station":"DEVIEC","date":"2022-06-08","conc":146},{"station":"DEVIEC","date":"2022-06-10","conc":60},{"station":"DEVIEC","date":"2022-06-12","conc":30},{"station":"DEVIEC","date":"2022-06-15","conc":10},{"station":"DEVIEC","date":"2022-06-20","conc":5},{"station":"DEVIEC","date":"2022-07-01","conc":3},{"station":"DEVIEC","date":"2022-07-20","conc":3},{"station":"DEVIEC","date":"2022-08-10","conc":2},{"station":"DEVIEC","date":"2022-08-30","conc":2},{"station":"DEVIEC","date":"2022-09-14","conc":2},
{"station":"DEWEID","date":"2022-03-18","conc":2},{"station":"DEWEID","date":"2022-04-05","conc":3},{"station":"DEWEID","date":"2022-04-25","conc":5},{"station":"DEWEID","date":"2022-05-03","conc":15},{"station":"DEWEID","date":"2022-05-08","conc":40},{"station":"DEWEID","date":"2022-05-12","conc":30},{"station":"DEWEID","date":"2022-05-15","conc":50},{"station":"DEWEID","date":"2022-05-18","conc":35},{"station":"DEWEID","date":"2022-05-21","conc":25},{"station":"DEWEID","date":"2022-05-25","conc":40},{"station":"DEWEID","date":"2022-05-28","conc":30},{"station":"DEWEID","date":"2022-05-31","conc":60},{"station":"DEWEID","date":"2022-06-02","conc":120},{"station":"DEWEID","date":"2022-06-04","conc":200},{"station":"DEWEID","date":"2022-06-05","conc":296},{"station":"DEWEID","date":"2022-06-06","conc":220},{"station":"DEWEID","date":"2022-06-07","conc":150},{"station":"DEWEID","date":"2022-06-08","conc":100},{"station":"DEWEID","date":"2022-06-10","conc":130},{"station":"DEWEID","date":"2022-06-12","conc":60},{"station":"DEWEID","date":"2022-06-15","conc":40},{"station":"DEWEID","date":"2022-06-18","conc":30},{"station":"DEWEID","date":"2022-06-22","conc":40},{"station":"DEWEID","date":"2022-06-26","conc":50},{"station":"DEWEID","date":"2022-06-29","conc":80},{"station":"DEWEID","date":"2022-07-01","conc":110},{"station":"DEWEID","date":"2022-07-03","conc":60},{"station":"DEWEID","date":"2022-07-06","conc":30},{"station":"DEWEID","date":"2022-07-10","conc":20},{"station":"DEWEID","date":"2022-07-15","conc":15},{"station":"DEWEID","date":"2022-07-22","conc":12},{"station":"DEWEID","date":"2022-07-30","conc":8},{"station":"DEWEID","date":"2022-08-09","conc":5},{"station":"DEWEID","date":"2022-08-16","conc":null},{"station":"DEWEID","date":"2022-08-23","conc":4},{"station":"DEWEID","date":"2022-09-12","conc":3},
{"station":"DEZUSM","date":"2022-03-17","conc":2},{"station":"DEZUSM","date":"2022-04-05","conc":3},{"station":"DEZUSM","date":"2022-04-25","conc":4},{"station":"DEZUSM","date":"2022-04-30","conc":null},{"station":"DEZUSM","date":"2022-05-06","conc":20},{"station":"DEZUSM","date":"2022-05-09","conc":40},{"station":"DEZUSM","date":"2022-05-11","conc":25},{"station":"DEZUSM","date":"2022-05-14","conc":60},{"station":"DEZUSM","date":"2022-05-16","conc":100},{"station":"DEZUSM","date":"2022-05-18","conc":40},{"station":"DEZUSM","date":"2022-05-21","conc":30},{"station":"DEZUSM","date":"2022-05-24","conc":50},{"station":"DEZUSM","date":"2022-05-27","conc":40},{"station":"DEZUSM","date":"2022-05-29","conc":120},{"station":"DEZUSM","date":"2022-05-31","conc":300},{"station":"DEZUSM","date":"2022-06-01","conc":250},{"station":"DEZUSM","date":"2022-06-02","conc":568},{"station":"DEZUSM","date":"2022-06-03","conc":200},{"station":"DEZUSM","date":"2022-06-04","conc":150},{"station":"DEZUSM","date":"2022-06-06","conc":60},{"station":"DEZUSM","date":"2022-06-09","conc":40},{"station":"DEZUSM","date":"2022-06-12","conc":30},{"station":"DEZUSM","date":"2022-06-16","conc":40},{"station":"DEZUSM","date":"2022-06-20","conc":35},{"station":"DEZUSM","date":"2022-06-24","conc":45},{"station":"DEZUSM","date":"2022-06-28","conc":40},{"station":"DEZUSM","date":"2022-07-02","conc":50},{"station":"DEZUSM","date":"2022-07-06","conc":35},{"station":"DEZUSM","date":"2022-07-11","conc":25},{"station":"DEZUSM","date":"2022-07-16","conc":30},{"station":"DEZUSM","date":"2022-07-22","conc":20},{"station":"DEZUSM","date":"2022-07-28","conc":15},{"station":"DEZUSM","date":"2022-08-05","conc":10},{"station":"DEZUSM","date":"2022-08-15","conc":8},{"station":"DEZUSM","date":"2022-08-25","conc":6},{"station":"DEZUSM","date":"2022-09-13","conc":5}
]},
"facet": {"field": "station", "type": "nominal", "header": {"labels": false, "title": null, "labelFontSize": 0, "labelPadding": 0, "labelExpr": "''"}},
"columns": 9,
"spacing": {"row": 12, "column": 11},
"spec": {
"width": 130,
"height": 143,
"layer": [
{"transform": [{"filter": "isValid(datum.total)"}],
 "mark": {"type": "rect", "fill": "#87CEEB", "opacity": 0.3},
 "encoding": {"x": {"field": "start", "type": "temporal", "title": null}, "x2": {"field": "end"}, "y": {"datum": -31, "type": "quantitative"}, "y2": {"datum": 649}}},
{"transform": [{"filter": "isValid(datum.total)"}],
 "mark": {"type": "rule", "color": "#C8302F", "strokeDash": [6, 4], "strokeWidth": 1.5},
 "encoding": {"x": {"field": "peakDate", "type": "temporal", "title": null}, "y": {"datum": -31, "type": "quantitative"}, "y2": {"datum": 649}}},
{"transform": [{"filter": "isValid(datum.date)"}],
 "mark": {"type": "line", "color": "#228B22", "strokeWidth": 1.4, "invalid": "break-paths-filter-domains"},
 "encoding": {
  "x": {"field": "date", "type": "temporal", "title": null,
   "scale": {"domain": [{"year": 2022, "month": 3, "date": 1}, {"year": 2022, "month": 11, "date": 13}]},
   "axis": {"title": null, "domain": false, "grid": true, "gridColor": "#E4E4E4",
    "values": [{"year": 2022, "month": 4, "date": 1}, {"year": 2022, "month": 5, "date": 1}, {"year": 2022, "month": 6, "date": 1}, {"year": 2022, "month": 7, "date": 1}, {"year": 2022, "month": 8, "date": 1}, {"year": 2022, "month": 9, "date": 1}, {"year": 2022, "month": 10, "date": 1}, {"year": 2022, "month": 11, "date": 1}],
    "labelExpr": "month(datum.value) % 2 == 1 ? timeFormat(datum.value, '%b') : ''",
    "labelAngle": -45, "labelAlign": "right", "labelBaseline": "top", "labelPadding": 3, "labelOverlap": false, "labelFlush": false,
    "tickColor": {"condition": {"test": "month(datum.value) % 2 == 1", "value": "#333333"}, "value": "transparent"},
    "gridWidth": {"condition": {"test": "month(datum.value) % 2 == 1", "value": 1}, "value": 0.6}}},
  "y": {"field": "conc", "type": "quantitative", "title": null,
   "scale": {"domain": [-31, 837], "nice": false, "zero": false},
   "axis": {"title": null, "domain": false, "grid": true, "gridColor": "#E4E4E4", "values": [0, 100, 200, 300, 400, 500, 600],
    "labelExpr": "datum.value % 200 == 0 ? datum.label : ''", "labelPadding": 5,
    "tickColor": {"condition": {"test": "datum.value % 200 == 0", "value": "#333333"}, "value": "transparent"},
    "gridWidth": {"condition": {"test": "datum.value % 200 == 0", "value": 1}, "value": 0.6}}}}},
{"transform": [{"filter": "isValid(datum.total)"}],
 "mark": {"type": "text", "fontSize": 20, "color": "#1E90FF", "baseline": "middle"},
 "encoding": {"x": {"datum": {"year": 2022, "month": 8, "date": 11}, "type": "temporal"}, "y": {"datum": 500, "type": "quantitative"}, "text": {"field": "total", "type": "nominal"}}},
{"transform": [{"filter": "isValid(datum.total)"}],
 "mark": {"type": "text", "fontSize": 20, "color": "#C8302F", "baseline": "middle"},
 "encoding": {"x": {"datum": {"year": 2022, "month": 8, "date": 11}, "type": "temporal"}, "y": {"datum": 300, "type": "quantitative"}, "text": {"field": "peak", "type": "nominal"}}},
{"transform": [{"filter": "isValid(datum.total)"}],
 "mark": {"type": "rect", "fill": "#FFFFFF", "stroke": "#333333", "strokeWidth": 1},
 "encoding": {"x": {"datum": {"year": 2022, "month": 3, "date": 1}, "type": "temporal"}, "x2": {"datum": {"year": 2022, "month": 11, "date": 13}}, "y": {"datum": 649, "type": "quantitative"}, "y2": {"datum": 837}}},
{"transform": [{"filter": "isValid(datum.total)"}],
 "mark": {"type": "text", "fontSize": 16, "color": "#1A1A1A", "baseline": "middle"},
 "encoding": {"x": {"datum": {"year": 2022, "month": 7, "date": 7}, "type": "temporal"}, "y": {"datum": 743, "type": "quantitative"}, "text": {"field": "station", "type": "nominal"}}}
]
},
"config": {
 "font": "Liberation Sans",
 "headerFacet": {"labels": false, "title": null},
 "view": {"stroke": "#333333", "strokeWidth": 1},
 "axis": {"labelFontSize": 16, "labelColor": "#4D4D4D", "labelFont": "Liberation Sans", "tickSize": 5}
}
}
